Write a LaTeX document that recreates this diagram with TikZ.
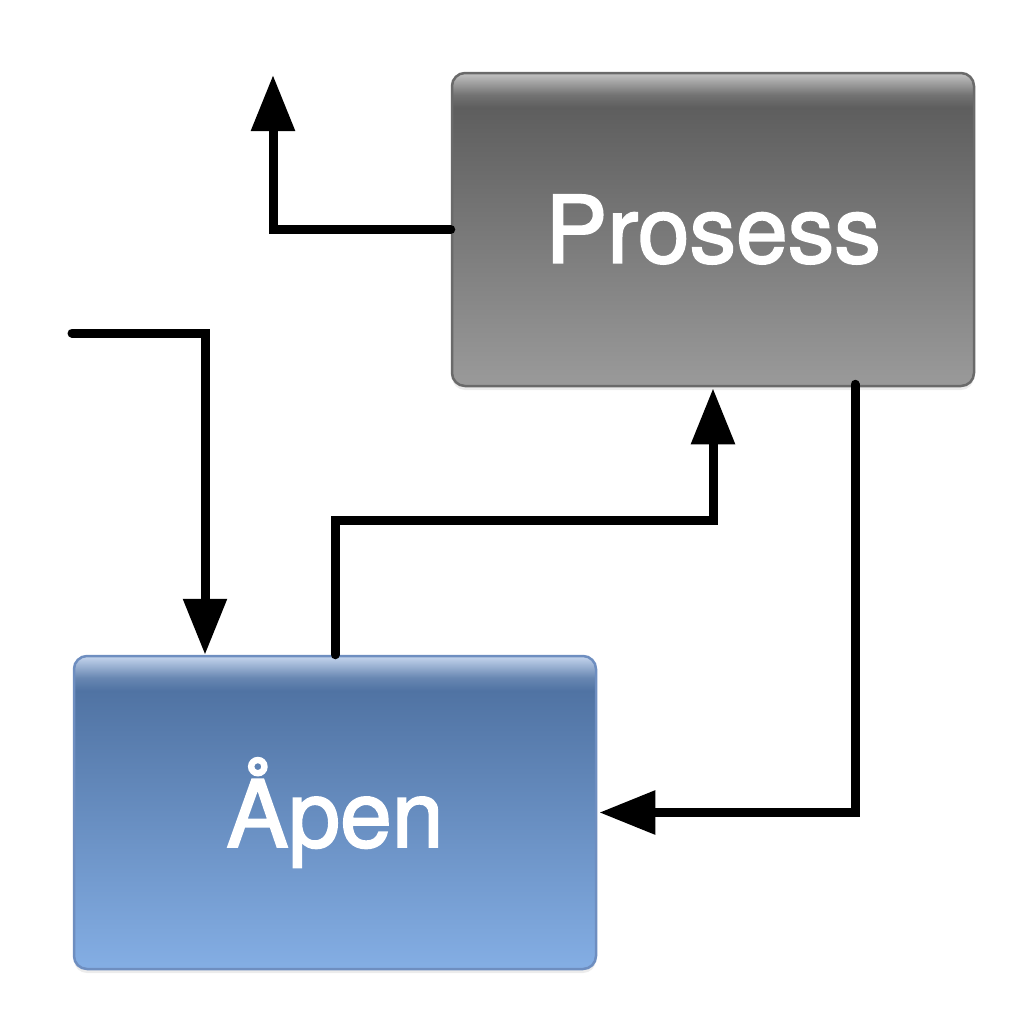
\documentclass[tikz,border=0pt]{standalone}
\usepackage{fontspec}
\setmainfont{TeX Gyre Heros}
\newfontfamily\boxfont{TeX Gyre Heros}[FakeBold=2]
\usetikzlibrary{arrows.meta,shadows}
\definecolor{grayhi}{HTML}{C4C4C4}
\definecolor{graymid}{HTML}{5E5E5E}
\definecolor{graylo}{HTML}{9A9A9A}
\definecolor{grayline}{HTML}{6A6A6A}
\definecolor{bluehi}{HTML}{C6D6EE}
\definecolor{bluemid}{HTML}{5073A3}
\definecolor{bluelo}{HTML}{84AEE4}
\definecolor{blueline}{HTML}{6E8EC0}
\pgfdeclareverticalshading{grayglass}{100bp}{color(0bp)=(graylo); color(25bp)=(graylo); color(69.5bp)=(graymid); color(71.5bp)=(graymid!80!grayhi); color(75bp)=(grayhi); color(100bp)=(grayhi)}
\pgfdeclareverticalshading{blueglass}{100bp}{color(0bp)=(bluelo); color(25bp)=(bluelo); color(69.5bp)=(bluemid); color(71.5bp)=(bluemid!80!bluehi); color(75bp)=(bluehi); color(100bp)=(bluehi)}
\begin{document}
\begin{tikzpicture}[x=1pt,y=-1pt,
  box/.style={rounded corners=13pt, minimum width=522pt, minimum height=313pt,
    inner sep=0pt, line width=2.5pt, text=white,
    font=\boxfont\fontsize{93}{110}\selectfont,
    drop shadow={opacity=0.15, shadow xshift=0pt, shadow yshift=-4pt}},
  arr/.style={line width=9pt, line join=miter, line cap=round,
    -{Triangle[length=56pt,width=42pt]}}
]
\useasboundingbox (0,0) rectangle (1029,1029);

\node[box, draw=grayline, shading=grayglass] (pro) at (713,229.5) {Prosess};
\node[box, draw=blueline, shading=blueglass] (ap) at (335,812.5) {Åpen};

\coordinate (out1) at (273,75);
\coordinate (in1) at (72,333);
\coordinate (lvl) at (0,520);

\draw[arr] (pro.west) -| (out1);
\draw[arr] (in1) -| ([xshift=-130pt]ap.north);
\draw[arr] (ap.north) |- (pro.south |- lvl) -- ([yshift=-1pt]pro.south);
\draw[arr] ([xshift=142pt,yshift=3pt]pro.south) |- ([xshift=2pt]ap.east);
\end{tikzpicture}
\end{document}
